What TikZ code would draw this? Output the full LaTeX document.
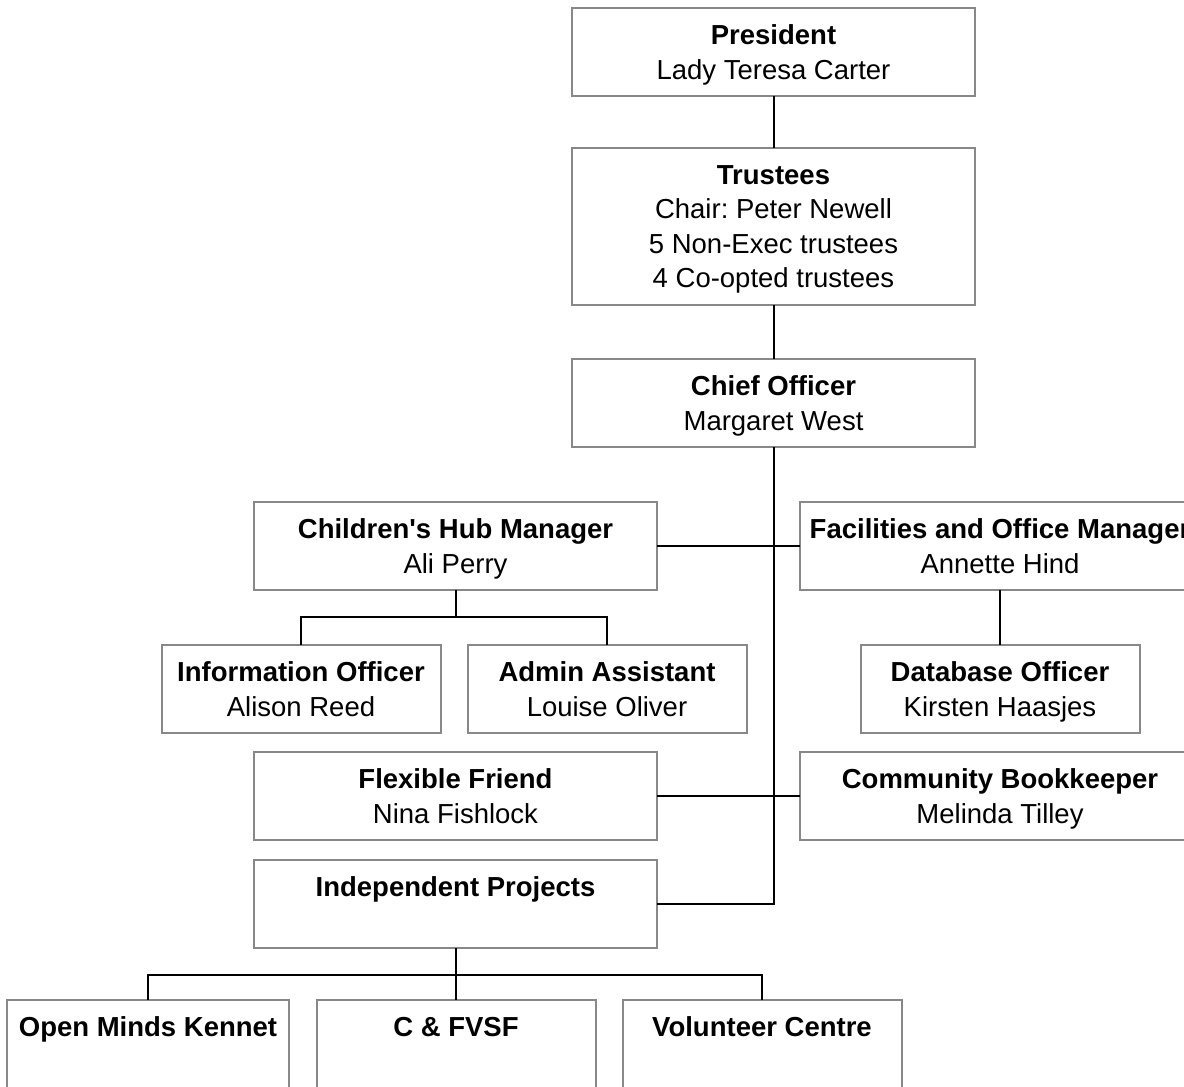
\documentclass[tikz,border=0pt]{standalone}
\usepackage{fontspec}
\setmainfont{Liberation Sans}
\frenchspacing
\begin{document}
\begin{tikzpicture}[x=1pt,y=-1pt,
  box/.style={draw=boxgray,line width=2pt,fill=white,inner sep=0pt,outer sep=0pt,
    align=center,font=\fontsize{27.5}{34.5}\selectfont,minimum height=88pt,text depth=0pt},
  wide/.style={box,minimum width=403pt},
  narrow/.style={box,minimum width=279pt},
  conn/.style={draw=black,line width=2pt}]
\definecolor{boxgray}{HTML}{888888}
\useasboundingbox (0,0) rectangle (1184,1087);
% boxes
\node[wide] (pres) at (773.5,52) {\textbf{President}\\Lady Teresa Carter};
\node[wide,minimum height=157pt] (trust) at (773.5,226.5) {\textbf{Trustees}\\Chair: Peter Newell\\5 Non-Exec trustees\\4 Co-opted trustees};
\node[wide] (chief) at (773.5,403) {\textbf{Chief Officer}\\Margaret West};
\node[wide] (hub) at (455.5,546) {\textbf{Children\textquotesingle s Hub Manager}\\Ali Perry};
\node[box,minimum width=400pt] (fac) at (1000,546) {\textbf{Facilities and Office Manager}\\Annette Hind};
\node[narrow] (info) at (301,689) {\textbf{Information Officer}\\Alison Reed};
\node[narrow] (admin) at (607,689) {\textbf{Admin Assistant}\\Louise Oliver};
\node[narrow] (db) at (1000,689) {\textbf{Database Officer}\\Kirsten Haasjes};
\node[wide] (ff) at (455.5,796) {\textbf{Flexible Friend}\\Nina Fishlock};
\node[box,minimum width=400pt] (cb) at (1000,796) {\textbf{Community Bookkeeper}\\Melinda Tilley};
\node[wide] (ip) at (455.5,904) {\textbf{Independent Projects}\\\mbox{}};
\node[box,minimum width=282pt] (omk) at (148,1044) {\textbf{Open Minds Kennet}\\\mbox{}};
\node[narrow] (cf) at (456,1044) {\textbf{C \& FVSF}\\\mbox{}};
\node[narrow] (vc) at (762,1044) {\textbf{Volunteer Centre}\\\mbox{}};
% connectors
\draw[conn] (pres.south) -- (trust.north);
\draw[conn] (trust.south) -- (chief.north);
\draw[conn] (chief.south) |- (ip.east);
\draw[conn] (hub.east) -- (fac.west);
\draw[conn] (ff.east) -- (cb.west);
\draw[conn] (fac.south) -- (db.north);
\coordinate (hubj) at ([yshift=-27pt]hub.south);
\draw[conn] (hub.south) -- (hubj);
\draw[conn] (hubj) -| (info.north);
\draw[conn] (hubj) -| (admin.north);
\coordinate (ipj) at ([yshift=-27pt]ip.south);
\draw[conn] (ip.south) -- (ipj);
\draw[conn] (ipj) -| (omk.north);
\draw[conn] (ipj) -| (cf.north);
\draw[conn] (ipj) -| (vc.north);
\end{tikzpicture}
\end{document}
